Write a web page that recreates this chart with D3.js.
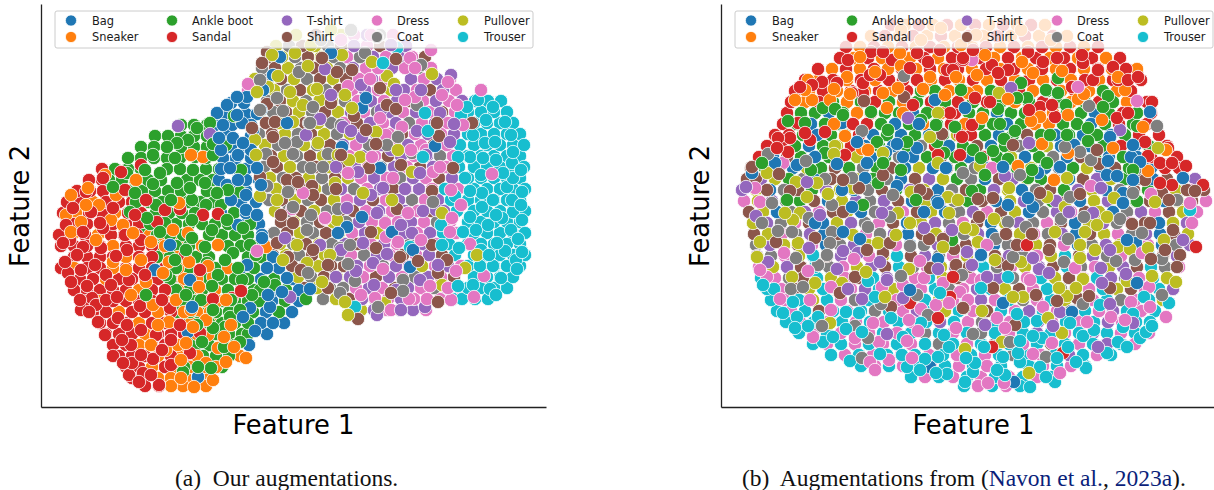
<!DOCTYPE html>
<html><head><meta charset="utf-8"><style>html,body{margin:0;background:#fff}svg{display:block}</style>
<script src="https://cdn.jsdelivr.net/npm/d3@7"></script></head><body><svg id="c" width="1214" height="490"></svg>
<script>
const categories=["Bag","Sneaker","Ankle boot","Sandal","T-shirt","Shirt","Dress","Coat","Pullover","Trouser"];
const colors=["#1f77b4","#ff7f0e","#2ca02c","#d62728","#9467bd","#8c564b","#e377c2","#7f7f7f","#bcbd22","#17becf"];
// points that are readable on top of the cloud: [feature1, feature2]
const bagA=[[176,113],[186,105],[196,115],[206,97],[196,97],[182,125],[201,123],[192,138],[202,143],[197,155],[189,168],[196,168],[197,180],[216,168],[212,130],[220,110],[180,150],[186,185],[205,195],[178,138],[210,150],[222,90],[232,75],[246,123],[239,57],[190,200],[205,210],[220,185],[197,225],[216,215],[221,238],[206,265],[226,268],[246,278],[241,292],[227,295],[209,308],[229,307],[202,317],[232,323],[214,331],[149,280],[151,307],[269,289],[147,332],[157,377],[129,245],[114,270],[290,53],[325,98],[321,108],[301,147],[339,168],[394,146],[372,250],[369,267],[351,232],[321,217],[306,227],[297,233]];
const sneakerA=[[70,220],[82,225],[92,233],[110,242],[72,262],[85,270],[105,282],[122,273],[128,262],[148,262],[167,266],[172,277],[158,287],[185,300],[150,310],[165,320],[152,327],[128,322],[117,325],[167,335],[183,337],[145,343],[177,348],[193,347],[205,358],[165,363],[140,378],[157,377],[172,380],[153,387],[225,247],[177,245],[132,230],[147,233],[30,195],[45,205],[25,215],[40,222],[58,205],[75,195],[95,180],[64,175],[47,188],[30,232],[55,240],[100,260],[90,295],[112,305],[135,300],[125,350],[110,345],[140,360],[185,362],[190,325],[138,203],[162,157],[150,155]];
const ankleA=[[147,140],[136,143],[126,147],[112,155],[134,158],[154,157],[172,155],[172,144],[169,123],[193,116],[156,128],[86,173],[104,170],[119,173],[152,170],[72,187],[112,184],[136,183],[149,188],[164,183],[187,190],[94,193],[151,200],[176,193],[199,192],[89,212],[106,218],[124,223],[119,232],[151,220],[171,230],[186,220],[202,228],[151,238],[164,247],[192,253],[209,245],[134,260],[166,263],[184,260],[197,268],[177,275],[201,280],[223,282],[171,286],[211,295],[234,285],[199,310],[172,310],[184,327],[172,328],[161,342],[183,347],[157,367],[142,372],[170,368],[265,299],[189,317],[199,342],[156,325],[185,145],[165,205],[130,200],[115,205],[145,250],[180,205],[215,255],[145,295],[160,300],[125,275],[105,295],[200,170],[190,300]];
const sandalA=[[29,240],[42,247],[27,273],[59,223],[75,256],[86,250],[54,265],[39,300],[51,298],[65,300],[76,297],[77,318],[57,322],[99,306],[104,275],[121,300],[129,308],[139,325],[81,340],[72,356],[121,350],[112,359],[91,363],[82,363],[102,373],[149,353],[159,270],[172,299],[191,298],[200,291],[177,214],[162,215],[144,255],[159,333],[124,210],[139,209],[62,178],[80,172],[100,165],[84,190],[105,200],[45,192],[32,208],[50,212],[72,208],[94,215],[116,222],[25,225],[42,232],[62,228],[84,235],[100,240],[22,243],[36,255],[60,248],[24,262],[40,270],[65,275],[88,280],[30,282],[46,286],[70,285],[40,310],[55,305],[48,312],[64,335],[86,325],[100,330],[115,335],[90,345],[100,355],[88,375],[98,382],[118,385],[130,365],[110,375],[130,340]];
const tshirtA=[[284,69],[279,119],[169,134],[137,126],[310,131],[321,137],[376,131],[399,113],[413,124],[409,142],[309,173],[317,172],[295,167],[364,189],[342,188],[379,173],[302,127],[336,213],[371,233],[382,211],[346,254],[332,263],[315,271],[295,277],[333,285],[379,280],[397,265],[322,243],[306,208],[384,307],[336,315],[244,238],[249,297],[279,245],[350,45],[320,85],[355,90],[380,90],[340,110],[385,155],[350,150],[330,195],[360,225],[300,250],[355,290],[360,310],[290,95],[265,135],[410,75],[395,210]];
const shirtA=[[226,52],[221,63],[226,104],[211,128],[234,122],[232,137],[281,58],[232,162],[246,180],[257,182],[272,195],[219,177],[296,72],[311,70],[355,59],[339,88],[346,105],[355,109],[290,103],[313,116],[396,123],[431,123],[398,136],[335,144],[328,168],[412,168],[271,186],[295,189],[391,191],[252,223],[236,243],[272,250],[247,257],[287,265],[287,288],[330,232],[335,248],[359,257],[356,209],[377,261],[397,273],[391,245],[350,293],[397,302],[317,319],[406,260],[275,35],[325,130],[360,165],[260,270],[300,155],[240,215]];
const dressA=[[374,68],[369,58],[337,68],[329,79],[307,86],[407,82],[364,100],[374,97],[401,95],[416,105],[422,125],[339,118],[361,127],[331,157],[399,167],[392,172],[307,173],[451,174],[352,178],[262,193],[284,218],[344,223],[357,242],[345,237],[409,232],[411,218],[429,244],[342,269],[389,286],[407,288],[415,271],[443,276],[433,297],[368,299],[386,299],[334,298],[367,213],[251,209],[284,219],[216,251],[207,84],[330,35],[300,40],[390,50],[440,90],[385,150],[410,190],[370,150],[345,135],[420,205],[380,240],[320,295],[350,310],[410,300]];
const coatA=[[219,80],[258,72],[236,98],[242,111],[272,107],[219,110],[268,123],[256,142],[244,143],[225,154],[252,154],[270,168],[226,186],[247,192],[282,167],[324,53],[336,37],[269,123],[346,145],[357,137],[376,105],[287,154],[392,202],[371,153],[267,273],[252,207],[266,230],[297,209],[299,248],[309,245],[307,264],[314,281],[362,280],[362,291],[299,293],[337,307],[280,40],[310,30],[270,215],[300,125],[380,65]];
const pulloverA=[[216,92],[227,87],[237,76],[249,92],[267,66],[276,89],[279,100],[254,53],[231,55],[214,140],[215,155],[277,143],[252,122],[219,196],[236,200],[301,55],[331,62],[346,76],[353,84],[391,74],[262,105],[311,108],[304,95],[335,132],[357,150],[319,157],[308,160],[297,155],[371,172],[322,193],[351,200],[294,183],[242,260],[256,245],[266,263],[281,282],[296,220],[289,255],[304,302],[344,303],[424,268],[436,255],[401,285],[401,213],[307,315],[270,45],[255,35],[290,30]];
const trouserA=[[452,107],[437,100],[426,107],[464,122],[384,113],[387,131],[432,135],[444,143],[454,142],[472,152],[417,157],[429,157],[442,158],[382,157],[471,163],[462,173],[424,178],[472,178],[441,193],[429,191],[414,196],[452,200],[466,187],[481,192],[342,63],[356,48],[441,207],[471,200],[472,212],[481,220],[429,217],[447,225],[461,218],[422,232],[456,243],[477,239],[464,251],[481,252],[448,255],[418,248],[401,245],[400,225],[439,266],[452,266],[475,260],[476,269],[460,278],[432,285],[449,289],[417,286],[314,307],[369,247],[445,120],[470,135],[480,170],[455,160],[440,175],[455,215],[435,230],[470,230],[480,205],[440,250],[455,295],[420,115]];

const bagB=[[214,100],[244,108],[198,124],[121,123],[136,142],[176,144],[196,148],[165,152],[182,157],[146,163],[94,157],[54,163],[76,165],[116,164],[144,178],[121,190],[225,168],[176,186],[216,201],[131,207],[31,173],[429,112],[389,137],[353,145],[412,145],[410,157],[387,161],[419,162],[386,175],[396,176],[412,180],[462,178],[339,167],[317,173],[282,167],[307,198],[402,193],[287,205],[402,203],[122,232],[139,239],[217,259],[203,212],[217,203],[94,223],[312,207],[260,255],[415,243],[406,240],[416,283],[282,303],[351,312],[293,382],[209,367],[189,290]];
const sneakerB=[[179,53],[139,57],[154,72],[180,66],[209,77],[235,77],[126,77],[113,89],[87,80],[84,90],[74,100],[91,100],[109,100],[129,94],[162,93],[202,89],[177,88],[224,95],[166,108],[182,113],[113,124],[124,136],[141,149],[147,150],[180,30],[220,28],[255,35],[300,30],[330,40],[240,45],[200,40],[264,55],[301,62],[312,73],[341,71],[256,75],[247,93],[287,99],[357,99],[363,94],[347,115],[319,117],[310,121],[261,118],[404,90],[397,77],[381,120],[321,144],[347,153],[392,148],[297,166],[333,180],[445,150],[427,171],[422,127]];
const ankleB=[[102,108],[114,109],[67,121],[84,123],[122,115],[150,112],[167,130],[186,142],[156,142],[104,153],[234,127],[223,153],[216,142],[162,163],[128,168],[41,163],[157,183],[66,200],[142,205],[300,83],[337,78],[337,93],[306,98],[296,98],[277,109],[279,124],[294,131],[283,139],[387,96],[382,107],[325,90],[367,128],[346,135],[367,141],[329,135],[272,151],[252,150],[260,158],[287,159],[326,163],[311,170],[307,178],[264,175],[412,170],[416,126],[416,201],[251,191],[231,240],[195,200],[200,120],[240,90],[215,125],[180,170],[90,170],[345,105]];
const sandalB=[[150,52],[162,52],[171,60],[127,60],[149,75],[159,75],[182,80],[189,68],[101,82],[116,83],[79,87],[91,85],[142,83],[142,93],[131,93],[196,53],[207,62],[219,50],[232,70],[242,60],[226,70],[237,102],[229,113],[192,105],[132,124],[104,132],[84,133],[69,138],[57,138],[56,148],[67,152],[89,140],[124,155],[217,155],[239,135],[77,123],[242,58],[252,50],[271,65],[287,70],[277,73],[307,52],[322,62],[336,58],[362,63],[377,70],[392,67],[361,55],[417,77],[397,80],[407,80],[372,80],[351,87],[331,105],[319,107],[269,102],[254,98],[334,117],[396,118],[407,113],[431,102],[424,142],[427,156],[439,163],[451,163],[465,166],[482,185],[439,183],[451,185],[251,125],[241,137],[239,155],[308,110],[447,148],[475,247],[306,245],[189,303],[217,318],[232,277],[229,297],[271,347],[342,353]];
const tshirtB=[[86,182],[163,201],[228,197],[187,118],[25,187],[290,88],[308,143],[399,130],[284,176],[380,188],[335,201],[35,216],[161,213],[99,215],[203,228],[231,230],[47,262],[88,248],[122,251],[137,253],[159,262],[116,269],[166,280],[127,289],[141,299],[182,298],[217,269],[246,252],[166,334],[251,265],[266,277],[312,258],[318,269],[328,273],[348,212],[372,213],[389,250],[380,268],[381,283],[405,274],[389,304],[452,289],[462,240],[412,323],[264,325],[332,326],[339,312],[377,347]];
const shirtB=[[183,97],[143,101],[35,178],[58,174],[46,190],[69,191],[162,175],[206,194],[31,167],[221,134],[199,190],[138,188],[122,180],[292,145],[376,150],[378,164],[424,180],[319,193],[257,199],[272,198],[359,194],[441,193],[448,200],[474,191],[466,190],[122,212],[94,238],[55,242],[169,243],[162,253],[208,239],[222,239],[233,249],[209,268],[235,265],[134,277],[119,293],[170,307],[243,308],[146,250],[258,217],[285,234],[311,234],[328,250],[296,245],[277,262],[287,266],[411,224],[429,223],[452,230],[444,250],[459,255],[456,267],[430,259],[389,288],[368,296],[356,298],[315,295],[336,301],[272,288],[294,325],[242,308]];
const dressB=[[39,202],[46,277],[39,270],[63,253],[87,271],[59,299],[89,300],[110,287],[110,310],[133,259],[161,287],[182,285],[203,278],[222,283],[199,261],[92,337],[152,323],[188,320],[200,309],[215,305],[228,303],[235,328],[134,338],[158,342],[186,341],[197,331],[149,362],[168,360],[191,358],[154,370],[34,188],[62,163],[260,280],[247,300],[239,292],[266,245],[309,280],[322,307],[354,268],[366,322],[390,317],[404,320],[410,302],[428,287],[429,307],[445,317],[421,253],[284,328],[276,318],[331,343],[312,354],[339,373],[267,383],[283,383],[416,101],[357,87],[271,168],[370,186],[430,194],[469,203],[471,223],[251,60]];
const coatB=[[183,76],[141,131],[47,154],[85,161],[104,179],[131,178],[172,195],[111,205],[51,203],[368,106],[436,126],[242,173],[370,160],[359,152],[344,147],[349,197],[299,175],[412,193],[456,200],[147,227],[88,218],[57,231],[71,232],[111,232],[109,243],[41,223],[189,246],[106,255],[97,265],[75,258],[180,276],[241,275],[70,289],[82,287],[160,304],[196,295],[101,326],[134,326],[147,338],[141,358],[207,315],[169,217],[275,239],[287,222],[305,227],[340,219],[363,217],[347,239],[399,219],[421,233],[395,261],[414,260],[441,259],[343,262],[292,257],[441,295],[362,304],[252,334],[325,357],[289,342]];
const pulloverB=[[217,113],[114,146],[113,154],[209,137],[46,173],[162,153],[86,197],[132,188],[217,163],[190,192],[227,197],[237,200],[96,183],[107,194],[75,182],[278,93],[437,148],[259,166],[346,178],[288,188],[344,207],[393,198],[434,202],[326,197],[64,213],[79,213],[72,220],[177,213],[189,223],[228,213],[244,228],[132,235],[157,243],[175,235],[36,257],[39,242],[77,243],[71,277],[94,283],[121,283],[188,269],[145,272],[109,323],[164,297],[222,247],[252,230],[273,219],[257,242],[334,232],[364,232],[386,217],[376,225],[359,245],[374,250],[359,258],[397,247],[409,249],[427,248],[443,240],[300,262],[274,260],[362,279],[338,288],[355,288],[346,296],[292,297],[302,297],[327,318],[261,311],[406,281],[431,276],[455,282],[281,342],[341,333],[308,373],[244,349]];
const trouserB=[[42,285],[53,289],[72,302],[62,313],[76,317],[74,328],[87,326],[97,317],[125,312],[138,313],[112,337],[102,342],[125,329],[147,281],[92,255],[154,297],[141,332],[170,318],[200,323],[219,293],[182,337],[159,354],[129,361],[181,355],[199,370],[217,357],[223,335],[215,373],[226,374],[245,358],[244,382],[186,367],[204,359],[228,347],[252,372],[276,370],[284,375],[254,363],[263,347],[282,357],[297,353],[299,362],[319,367],[325,377],[334,382],[309,387],[299,341],[321,338],[312,336],[336,358],[347,347],[355,362],[365,368],[362,336],[373,330],[386,353],[397,342],[406,347],[419,338],[425,332],[349,323],[316,321],[296,314],[379,305],[423,297],[448,303],[412,314],[402,327],[431,326],[469,210],[287,277],[260,288]];

// points buried under the top layer, listed as [feature2, feature1, feature1, ...]
const bagA2=[[103,190,203],[114,183,205,216],[125,174,191,210],[136,185,210],[147,177,190,205],[158,182,195,210],[169,180,205],[180,178,205,218],[191,190,205],[202,175,200,215],[213,180,205],[224,205,218],[235,221],[246,225],[257,232],[268,200,238],[279,220,252],[290,232,258],[301,231,258],[312,225,251],[323,220,243],[334,226],[345,208]];
const sneakerA2=[[202,52],[213,35,74],[224,59],[235,31,57,109,122,135],[246,72,124,137,161],[257,85,124,137],[268,33,72,137,161,187],[279,65,104,143,156],[290,98,137,150,174],[301,59,124,163,176],[312,78,117,143,156,169],[323,98,137,150,176],[334,104,156,162],[345,98,137,143,181],[356,117,137,156,199],[367,111,137,150,163,175],[378,117,130,145,165],[386,130,142,165]];
const ankleA2=[[125,140,153,166],[136,114,127,140,153,166],[147,100,113,140,153,166],[158,87,100,113,126,139,165],[169,74,87,100,126,139,165,178],[180,68,81,94,107,120,146,159,172],[191,75,88,101,114,127,140,166,179],[202,95,108,121,147,160,173],[213,115,128,141,154,193],[224,109,135,148,161,174,187,209],[235,103,116,129,142,168,181,194,207],[246,122,135,148,187,200,213],[257,116,129,142,155,168,207,220],[268,135,148,174,213,226],[279,129,142,155,168,181,194,207,233],[290,135,148,161,187,200,213,219,245],[301,142,155,168,181,194,207,218,244],[312,136,149,162,175,188,212,238],[323,142,155,168,181,194,207],[334,149,175,188,201,207],[345,155,168,194],[356,149,162,175,188],[367,143,181]];
const sandalA2=[[169,61],[180,48,61],[191,36,49,62,75],[202,26,39,65,78,91],[213,22,48,61,87,100],[224,33,46,72,85,98],[235,18,44,70,83,96],[246,20,33,46,59,85,98,111],[257,33,46,59,72,98,111],[268,20,46,59,85,98,111,124],[279,39,52,78,91,117,130],[290,33,46,59,72,85,111,124],[301,46,72,85,98,111,137],[312,52,65,91,104,130],[323,59,72,85,111,124],[334,65,78,91,117,130,143],[345,72,85,111,124],[356,78,91,104,130,143],[367,85,98,124],[378,91,104],[386,104,118]];
const tshirtA2=[[35,326],[46,313,365],[57,332,358],[68,312,351],[79,331,370,396],[90,324,363,402],[101,330,356,395,421],[112,310,349,375],[123,329,355,394],[134,335,387,413],[145,302,341,367],[156,321,360,386],[167,314,353,392],[178,333,372,411],[189,300,339,378],[200,319,358,397],[211,338,364,403],[222,318,370],[233,324,363,389],[244,304,343,382],[255,336,388],[266,316,355,407],[277,309,348,387],[288,328,367,406],[299,321,360],[310,333,372]];
const shirtA2=[[46,261,300,339],[57,228,267,384],[68,234,273,338],[79,240,279,305],[90,220,259,298,389],[101,239,278,369],[112,245,284,401],[123,225,264,316],[134,231,270,361],[145,250,289,393],[156,230,269,347],[167,236,275,301,379],[178,255,294,398],[189,222,261,300,352],[200,241,280,332],[211,260,299,312,390],[222,240,279,344],[233,246,285],[244,265,317],[255,232,271,362,401],[266,251,290,303],[277,283,335,413],[288,263,302,354],[299,308,334,386]];
const dressA2=[[35,313,352],[46,326,352],[57,306,345,371],[68,325,364,390],[79,318,344,383,409],[90,207,311,337,376,415],[101,317,343,382,408],[112,323,362,388,414],[123,303,342,381,407],[134,322,348,374,400],[145,315,354,380,406],[156,308,334,373,412],[167,327,366,405],[178,320,346,385],[189,326,365,391,417],[200,306,345,384],[211,325,351,377],[222,331,357,383,409],[233,311,350,376,415],[244,330,356,395],[255,310,349,375],[266,329,368,394,420],[277,322,361,400],[288,315,341,380,419],[299,347,373,399],[310,346,385]];
const coatA2=[[35,339],[46,248,287],[57,254,293,319],[68,221,260,299,377],[79,227,266],[90,285,246],[101,226,265,304],[112,232,271,336],[123,251,290,368],[134,218,257,296],[145,237,276,328],[156,256,295,399],[167,223,262,340],[178,242,281,359],[189,248,287,313],[200,228,267,371],[211,247,286],[222,266,305,396],[233,233,272],[244,252,291,369],[255,258,297,323],[266,264,342],[277,270,374],[288,289,302,393],[299,282],[310,359]];
const pulloverA2=[[35,300],[46,235,274],[57,241,280],[68,247,286],[79,214,253,292],[90,233,272,350],[101,252,291],[112,219,258,297],[123,238,277],[134,244,283,309],[145,224,263],[156,243,282],[167,249,288],[178,229,268,307],[189,235,274],[200,254,293],[211,234,273],[222,253,292],[233,259,298,337],[244,239,278],[255,245,284],[266,277,381],[277,257,296],[288,276],[299,295],[310,320]];
const trouserA2=[[90,440],[101,434,447,460],[112,427,440,453,466],[123,420,433,446,459,472],[134,427,440,453,466,479],[145,419,433,446,459,472,483],[156,427,440,453,466,479],[167,418,433,446,459,472,483],[178,427,440,453,466,479],[189,404,433,446,459,472,484],[200,410,427,440,453,466,479],[211,416,433,446,459,472,484],[222,427,440,453,466,479],[233,402,433,446,459,472,484],[244,408,427,440,453,466,479],[255,414,433,446,459,472,484],[266,427,440,453,466,479],[277,433,446,459,472],[288,427,440,453,466],[299,412,421,434,447]];

const bagB2=[[113,108,192,276,374],[124,90,174,286,370],[135,96,152,180,208,278,334,362,390],[146,88,144,172,228,270,340,368,414],[157,52,94,150,192,248,304,346,388,416],[168,72,128,184,212,268,324,380,430],[179,96,180,264,348,432],[190,49,133,217,301,385],[201,107,191,275,359,443],[212,56,140,224,308,392],[223,102,186,270,354,438],[234,103,187,271,355,439],[245,105,189,273,357,441]];
const sneakerB2=[[25,184,212,240,268,296,324],[36,150,178,206,234,262,290,318,346],[47,139,167,195,223,251,279,307,335,363],[58,133,161,189,217,245,273,301,329,357,385],[69,111,139,167,195,223,251,279,307,335,363,391,416],[80,98,126,154,182,210,238,266,294,322,350,378,406],[91,88,116,144,172,228,256,284,312,340,368,396],[102,84,126,182,238,294,350,406],[113,136,220,332],[124,132,202,244,314,328]];
const ankleB2=[[91,200,214,270,326,382],[102,112,140,168,196,224,252,280,308,336,364,392],[113,80,94,122,164,178,206,248,262,290,304,346,360,388,416],[124,76,104,118,160,188,216,258,272,300,342,356,384,412],[135,82,110,124,166,194,222,264,292,320,348,376,404],[146,74,102,158,186,242,284,312,354,382,428],[157,80,108,164,206,234,276,318,374,402],[168,44,100,156,240,296,352,408],[179,68,152,236,320,404],[190,91,175,259,343,427],[201,79,163,247,331,415]];
const sandalB2=[[25,170,198,226,254,282,310],[36,164,192,220,248,276,304,332],[47,125,153,181,209,237,265,293,321,349,377],[58,119,147,175,203,231,259,287,315,343,371,399],[69,97,125,153,181,209,237,265,293,321,349,377,405],[80,84,112,140,168,196,224,252,280,308,336,364,392,420],[91,74,102,130,158,186,242,298,354,410],[102,70,98,154,210,266,322,378,426],[113,66,150,234,318,402,430],[124,62,146,230,398,426],[135,54,68,138,250,418,438],[146,46,60,130,214,400,446],[157,38,122,262,430,456],[168,444,458]];
const tshirtB2=[[179,40,124,208,292,376,474],[190,21,105,189,273,357,441],[201,51,135,219,303,387],[212,84,168,252,336,420],[223,46,130,214,298,382,466],[234,89,173,257,341,425],[245,49,133,217,301,385,469],[256,36,120,204,288,372,456],[267,66,150,234,318,402],[278,166,278,390],[289,144,256,354],[300,162,260],[311,196,308,392],[322,219,317,387],[333,316,372],[344,386],[355,348]];
const shirtB2=[[135,306],[146,256],[157,66,220,360],[168,30,114,170,226,282,394],[179,26,110,194,278,362,446],[190,77,161,245,329,413,483],[201,93,177,261,345,429,471],[212,28,112,196,280,364,448],[223,88,172,256,340,424],[234,33,117,201,285,369,453],[245,77,161,245,329,413],[256,106,190,274,358,442],[267,80,164,248,332,416],[278,82,138,236,348],[289,74,186,298,410],[300,190,358],[311,98,266],[344,330]];
const dressB2=[[190,469],[201,23,485],[212,98,182,266,350,434,476],[223,74,158,242,326,410],[234,61,145,229,313,397],[245,91,175,259,343,427],[256,64,148,232,316,400],[267,38,122,206,290,374,458],[278,54,124,194,250,306,362,418],[289,60,130,200,242,312,368,424],[300,64,120,176,232,274,316,372,414],[311,70,126,182,252,294,336,378,420],[322,79,107,135,163,191,247,289,331,359,401],[333,92,120,148,176,232,288,344,400,428],[344,106,134,162,190,246,302,358,414],[355,124,152,180,208,236,264,320,376],[366,154,182,210,238,266,322,350],[377,204,232,260,288,316],[386,257,285]];
const coatB2=[[146,200,298],[157,178,332],[168,58,142,254,338,416],[179,82,166,250,334,418],[190,63,147,231,315,399],[201,65,149,233,317,401],[212,70,154,238,322,406],[223,60,144,228,312,396],[234,75,159,243,327,411],[245,35,119,203,287,371,455],[256,50,134,218,302,386],[267,108,192,276,360,444],[278,68,180,292,404],[289,116,228,340,452],[300,134,302,400],[311,154,350],[322,261],[333,204,260],[344,218,274],[355,292]];
const pulloverB2=[[135,236],[146,116,326],[157,136,290],[168,86,198,310,366],[179,54,138,222,306,390],[190,35,119,203,287,371,455],[201,37,121,205,289,373,457],[212,42,126,210,294,378,462],[223,32,116,200,284,368,452],[234,47,131,215,299,383,467],[245,63,147,231,315,399],[256,78,162,246,330,414],[267,52,136,220,304,388],[278,110,222,334,446],[289,88,172,284,396],[300,92,218,344,442],[311,224]];
const trouserB2=[[256,92,176,260,344,428],[267,94,178,262,346,430],[278,40,96,152,208,264,320,376,432],[289,46,102,158,214,270,326,382,438],[300,50,78,106,148,204,246,288,330,386,428],[311,56,84,112,140,168,210,238,280,322,364,406,434],[322,65,93,121,149,177,205,233,275,303,345,373,415,429],[333,78,106,134,162,190,218,246,274,302,330,358,386,414],[344,92,120,148,176,204,232,260,288,316,344,372,400],[355,110,138,166,194,222,250,278,306,334,362,390],[366,140,168,196,224,252,280,308,336,364],[377,190,218,246,274,302,330],[386,243,271,299]];

const topA=[bagA,sneakerA,ankleA,sandalA,tshirtA,shirtA,dressA,coatA,pulloverA,trouserA];
const underA=[bagA2,sneakerA2,ankleA2,sandalA2,tshirtA2,shirtA2,dressA2,coatA2,pulloverA2,trouserA2];
const topB=[bagB,sneakerB,ankleB,sandalB,tshirtB,shirtB,dressB,coatB,pulloverB,trouserB];
const underB=[bagB2,sneakerB2,ankleB2,sandalB2,tshirtB2,shirtB2,dressB2,coatB2,pulloverB2,trouserB2];
const xDomain=[0,505], yDomain=[407,4];
const svg=d3.select("#c");
function panel(top,under,left){
  const x=d3.scaleLinear().domain(xDomain).range([left,left+505]);
  const y=d3.scaleLinear().domain(yDomain).range([407,4]);
  const low=[],high=[];
  under.forEach((rows,c)=>{let i=0;rows.forEach(([v,...us])=>us.forEach(u=>low.push({p:[u,v],c,k:(i++*37+c*11)%101})));});
  top.forEach((s,c)=>s.forEach((p,i)=>high.push({p,c,k:(i*37+c*11)%101})));
  low.sort((a,b)=>a.k-b.k); high.sort((a,b)=>a.k-b.k);
  const g=svg.append("g");
  g.selectAll("circle").data(low.concat(high)).join("circle")
   .attr("cx",d=>x(d.p[0])).attr("cy",d=>y(d.p[1])).attr("r",6.7)
   .attr("fill",d=>colors[d.c]).attr("stroke","#fff").attr("stroke-width",.8);
  svg.append("g").attr("transform","translate(0,407)").call(d3.axisBottom(x).tickValues([]).tickSizeOuter(0))
    .select("path").attr("stroke","#222").attr("stroke-width",1.3);
  svg.append("g").attr("transform",`translate(${left},0)`).call(d3.axisLeft(y).tickValues([]).tickSizeOuter(0))
    .select("path").attr("stroke","#222").attr("stroke-width",1.3);
  svg.append("text").attr("x",left+252.5).attr("y",434).attr("text-anchor","middle")
    .attr("font-family","DejaVu Sans").attr("font-size",25.8).attr("fill","#000").text("Feature 1");
  svg.append("text").attr("transform",`translate(${left-12},206) rotate(-90)`).attr("text-anchor","middle")
    .attr("font-family","DejaVu Sans").attr("font-size",25.8).attr("fill","#000").text("Feature 2");
  const lg=svg.append("g").attr("transform",`translate(${left+14},11)`);
  lg.append("rect").attr("width",478).attr("height",37).attr("rx",2).attr("fill","#fff").attr("fill-opacity",.8).attr("stroke","#ccc").attr("stroke-width",1);
  const cols=[16,117,232,322,408], lbl=[37,137,252,342,429];
  categories.forEach((n,i)=>{
    const col=Math.floor(i/2), row=i%2, cy=row?26:9.5;
    lg.append("circle").attr("cx",cols[col]).attr("cy",cy).attr("r",5.6).attr("fill",colors[i]).attr("stroke","#fff").attr("stroke-width",.75);
    lg.append("text").attr("x",lbl[col]).attr("y",cy+4).attr("font-family","DejaVu Sans").attr("font-size",11.4).attr("fill","#1a1a1a").text(n);
  });
}
panel(topA,underA,41);
panel(topB,underB,721);
function cap(x,parts){
  const t=svg.append("text").attr("x",x).attr("y",486).attr("font-family","Liberation Serif").attr("font-size",23.5).attr("fill","#111").attr("xml:space","preserve");
  parts.forEach(([s,c])=>t.append("tspan").attr("fill",c||"#111").text(s));
}
cap(175,[["(a)  Our augmentations."]]);
cap(742,[["(b)  Augmentations from ("],["Navon et al.","#0b1f7a"],[", "],["2023a","#0b1f7a"],[")."]]);
</script></body></html>
